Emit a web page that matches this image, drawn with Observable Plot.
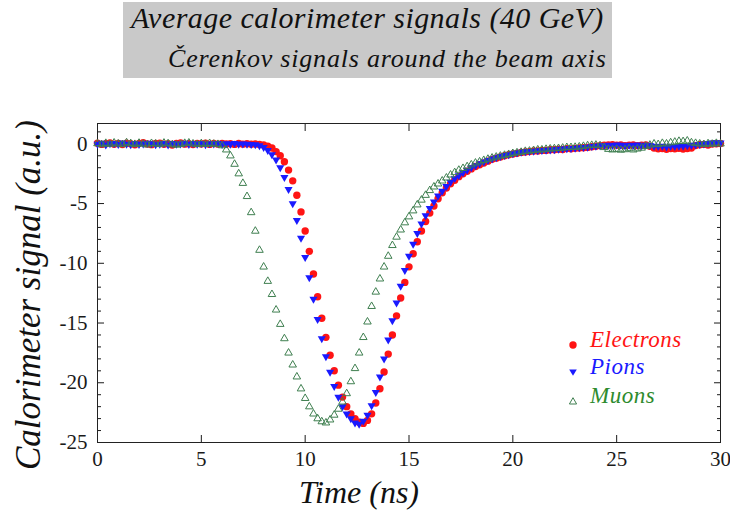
<!DOCTYPE html>
<html><head><meta charset="utf-8">
<script src="https://cdn.jsdelivr.net/npm/d3@7"></script>
<script src="https://cdn.jsdelivr.net/npm/@observablehq/plot@0.6"></script>
<style>
body{margin:0;background:#fff;}
#page{position:relative;width:730px;height:521px;overflow:hidden;font-family:"Liberation Serif","Times New Roman",Times,"Nimbus Roman",serif;background:#fff;}
#header{position:relative;height:95px;}
#box{position:absolute;left:123px;top:2px;width:489px;height:76px;background:#c9c9c9;}
.t{position:absolute;white-space:nowrap;font-style:italic;line-height:1;color:#111;}
#title{left:131px;top:3px;font-size:30px;letter-spacing:0.45px;}
#sub{left:168px;top:46px;font-size:26px;letter-spacing:0.8px;}
.li{position:absolute;white-space:nowrap;font-style:italic;font-size:23px;line-height:1;}
.ls{position:absolute;}
</style></head>
<body><div id="page">
<div id="header"><div id="box"></div><div class="t" id="title">Average calorimeter signals (40 GeV)</div><div class="t" id="sub">Čerenkov signals around the beam axis</div></div>
<div id="chart"></div>
<div id="legend"></div>
</div>
<script>
const time = [0,0.2,0.4,0.6,0.8,1,1.2,1.4,1.6,1.8,2,2.2,2.4,2.6,2.8,3,3.2,3.4,3.6,3.8,4,4.2,4.4,4.6,4.8,5,5.2,5.4,5.6,5.8,6,6.2,6.4,6.6,6.8,7,7.2,7.4,7.6,7.8,8,8.2,8.4,8.6,8.8,9,9.2,9.4,9.6,9.8,10,10.2,10.4,10.6,10.8,11,11.2,11.4,11.6,11.8,12,12.2,12.4,12.6,12.8,13,13.2,13.4,13.6,13.8,14,14.2,14.4,14.6,14.8,15,15.2,15.4,15.6,15.8,16,16.2,16.4,16.6,16.8,17,17.2,17.4,17.6,17.8,18,18.2,18.4,18.6,18.8,19,19.2,19.4,19.6,19.8,20,20.2,20.4,20.6,20.8,21,21.2,21.4,21.6,21.8,22,22.2,22.4,22.6,22.8,23,23.2,23.4,23.6,23.8,24,24.2,24.4,24.6,24.8,25,25.2,25.4,25.6,25.8,26,26.2,26.4,26.6,26.8,27,27.2,27.4,27.6,27.8,28,28.2,28.4,28.6,28.8,29,29.2,29.4,29.6,29.8,30];

const electrons = [0.05,-0.05,0,0.08,-0.04,0.02,-0.06,0.05,0,-0.08,0.04,0.1,-0.02,-0.07,0.03,0.06,-0.04,0,-0.1,0.02,0.07,-0.03,0,-0.06,0.04,-0.02,0.05,-0.05,0.02,-0.03,0.04,-0.02,0,-0.05,0.02,-0.03,0,-0.04,-0.02,-0.06,-0.1,-0.2,-0.35,-0.65,-1.0,-1.5,-2.2,-3.1,-4.3,-5.7,-7.3,-9.0,-10.9,-12.8,-14.6,-16.2,-17.7,-19.0,-20.2,-21.2,-22.0,-22.6,-23.0,-23.3,-23.4,-23.15,-22.6,-21.7,-20.5,-19.1,-17.6,-16.0,-14.4,-12.9,-11.6,-10.3,-9.2,-8.2,-7.3,-6.5,-5.8,-5.2,-4.6,-4.1,-3.7,-3.35,-3.05,-2.75,-2.5,-2.3,-2.1,-1.9,-1.75,-1.6,-1.45,-1.3,-1.2,-1.1,-1.0,-0.92,-0.85,-0.8,-0.72,-0.68,-0.65,-0.6,-0.6,-0.55,-0.55,-0.5,-0.5,-0.45,-0.47,-0.4,-0.42,-0.38,-0.35,-0.33,-0.3,-0.25,-0.2,-0.15,-0.12,-0.1,-0.08,-0.12,-0.1,-0.15,-0.12,-0.1,-0.15,-0.12,-0.1,-0.2,-0.35,-0.42,-0.4,-0.45,-0.4,-0.42,-0.38,-0.44,-0.4,-0.35,-0.15,-0.08,-0.05,-0.1,-0.02,0,0.02];

const pions = [-0.03,0.06,-0.08,0.02,0.05,-0.04,0.08,-0.02,-0.07,0.03,-0.05,0,0.07,0.02,-0.06,-0.02,0.05,-0.08,0.04,-0.03,0,0.06,-0.05,0.03,-0.02,0.04,-0.06,0.02,0,0.05,-0.04,0.02,-0.02,0.03,-0.03,0,-0.02,-0.04,-0.07,-0.15,-0.3,-0.55,-0.9,-1.35,-2.0,-2.8,-3.8,-5.0,-6.4,-7.9,-9.5,-11.2,-13.0,-14.7,-16.3,-17.8,-19.1,-20.3,-21.2,-22.0,-22.6,-23.0,-23.35,-23.45,-23.2,-22.7,-21.9,-20.8,-19.5,-18.0,-16.4,-14.8,-13.3,-11.9,-10.6,-9.4,-8.4,-7.5,-6.7,-6.0,-5.4,-4.85,-4.35,-3.95,-3.55,-3.2,-2.9,-2.65,-2.4,-2.2,-2.0,-1.82,-1.65,-1.5,-1.38,-1.25,-1.15,-1.05,-0.97,-0.9,-0.82,-0.76,-0.7,-0.66,-0.62,-0.6,-0.57,-0.55,-0.52,-0.5,-0.48,-0.45,-0.42,-0.4,-0.37,-0.35,-0.32,-0.3,-0.27,-0.22,-0.18,-0.14,-0.12,-0.1,-0.12,-0.08,-0.1,-0.15,-0.1,-0.12,-0.08,-0.15,-0.1,-0.12,-0.18,-0.22,-0.2,-0.25,-0.2,-0.22,-0.18,-0.2,-0.15,-0.12,-0.08,-0.05,0,0.05,0.08,0.1,0.08];

const muons = [0.02,-0.06,0.05,-0.03,0.08,0,-0.05,0.1,0.03,-0.04,0.06,-0.02,-0.08,0.04,0,-0.05,0.07,0.02,-0.06,-0.1,-0.04,0.05,0.08,0,-0.05,0.03,-0.03,0.04,-0.02,-0.04,-0.15,-0.5,-1.0,-1.7,-2.5,-3.3,-4.4,-5.75,-7.3,-8.9,-10.3,-11.5,-12.6,-13.9,-15.1,-16.3,-17.5,-18.5,-19.5,-20.5,-21.3,-22.0,-22.6,-23.0,-23.25,-23.35,-23.1,-22.7,-22.2,-21.6,-20.9,-19.9,-18.8,-17.5,-16.2,-14.9,-13.6,-12.4,-11.3,-10.3,-9.4,-8.5,-7.8,-7.2,-6.6,-6.1,-5.6,-5.1,-4.7,-4.3,-3.9,-3.6,-3.35,-3.1,-2.85,-2.6,-2.4,-2.2,-2.05,-1.9,-1.75,-1.6,-1.5,-1.38,-1.28,-1.18,-1.1,-1.02,-0.95,-0.88,-0.8,-0.74,-0.7,-0.62,-0.6,-0.55,-0.5,-0.5,-0.45,-0.42,-0.4,-0.38,-0.35,-0.3,-0.3,-0.28,-0.25,-0.2,-0.15,-0.12,-0.1,-0.15,-0.3,-0.45,-0.5,-0.45,-0.52,-0.48,-0.4,-0.5,-0.42,-0.35,-0.2,-0.1,0,-0.05,0.05,0,0.1,0.15,0.22,0.2,0.25,0.1,0.05,0,-0.05,0.02,-0.02,0.05,0];

const seriesNames = ["Electrons", "Pions", "Muons"];
const seriesColors = ["#ff1414", "#1a1aff", "#2e8b2e"];
const xTicks = [0, 5, 10, 15, 20, 25, 30];
const yTicks = [0, -5, -10, -15, -20, -25];
const yMinor = [1,-1,-2,-3,-4,-6,-7,-8,-9,-11,-12,-13,-14,-16,-17,-18,-19,-21,-22,-23,-24];

const eRows = time.map((t, i) => ({t, v: electrons[i]}));
const pRows = time.map((t, i) => ({t, v: pions[i]}));
const mRows = time.map((t, i) => ({t, v: muons[i]}));

const serif = '"Liberation Serif","Times New Roman",Times,"Nimbus Roman",serif';
const chart = Plot.plot({
  width: 730, height: 426,
  marginLeft: 97, marginRight: 10, marginTop: 28, marginBottom: 79,
  x: {domain: [0, 30]},
  y: {domain: [-25, 1.7]},
  style: {fontFamily: serif, fontSize: "21px", color: "#1a1a1a", background: "transparent", overflow: "visible"},
  marks: [
    Plot.axisX({ticks: xTicks, tickSize: 0, tickPadding: 9, tickFormat: d => String(d), label: null}),
    Plot.axisX({ticks: xTicks, tickSize: -7, fill: "none", label: null}),
    Plot.axisX({anchor: "top", ticks: xTicks, tickSize: -7, fill: "none", label: null}),
    Plot.axisY({ticks: yTicks, tickSize: 0, tickPadding: 10, tickFormat: d => String(d), label: null}),
    Plot.axisY({ticks: yTicks, tickSize: -7, fill: "none", label: null}),
    Plot.axisY({ticks: yMinor, tickSize: -4, fill: "none", label: null}),
    Plot.axisY({anchor: "right", ticks: yTicks, tickSize: -7, fill: "none", label: null}),
    Plot.axisY({anchor: "right", ticks: yMinor, tickSize: -4, fill: "none", label: null}),
    Plot.frame({stroke: "#222"}),
    Plot.dot(eRows, {x: "t", y: "v", r: 3.7, fill: seriesColors[0], stroke: "none"}),
    Plot.dot(pRows, {x: "t", y: "v", symbol: "triangle", rotate: 180, r: 3.0, fill: seriesColors[1], stroke: "none"}),
    Plot.dot(mRows, {x: "t", y: "v", symbol: "triangle", r: 2.8, fill: "none", stroke: "#3f7f50", strokeWidth: 1}),
    Plot.text(["Time (ns)"], {text: d => d, frameAnchor: "bottom", textAnchor: "middle", dx: -50, dy: 60, fontSize: 32, fontStyle: "italic", fill: "#111"}),
    Plot.text(["Calorimeter signal (a.u.)"], {text: d => d, frameAnchor: "left", textAnchor: "middle", rotate: -90, dx: -69, dy: 12, fontSize: 35, fontStyle: "italic", fill: "#111"})
  ]
});
document.getElementById("chart").appendChild(chart);

// legend
const legend = document.getElementById("legend");
const legendY = [341, 368, 397];
const shapes = [
  '<circle cx="5" cy="5" r="3.7" fill="#ff1414"/>',
  '<path d="M1.2,2.6 L8.8,2.6 L5,8.8 Z" fill="#1a1aff"/>',
  '<path d="M1.4,8 L8.6,8 L5,1.7 Z" fill="none" stroke="#3f7f50" stroke-width="1"/>'
];
seriesNames.forEach((name, i) => {
  const cy = legendY[i];
  const s = document.createElement("div");
  s.className = "ls";
  s.style.left = "568px"; s.style.top = (cy - 5) + "px";
  s.innerHTML = '<svg width="10" height="10">' + shapes[i] + '</svg>';
  legend.appendChild(s);
  const t = document.createElement("div");
  t.className = "li";
  t.style.left = "590px"; t.style.top = (cy - 13) + "px";
  t.style.color = seriesColors[i];
  t.style.letterSpacing = "0.5px";
  t.textContent = name;
  legend.appendChild(t);
});
</script>
</body></html>
